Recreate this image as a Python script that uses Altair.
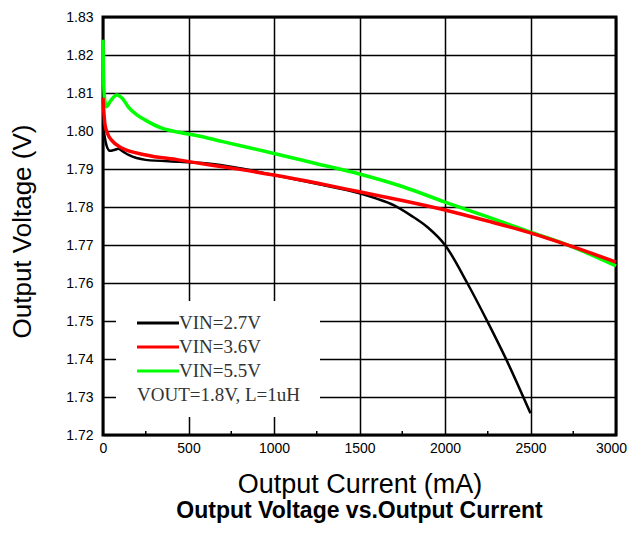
import altair as alt
import pandas as pd

# ---- data ----
series_names = ["VIN=2.7V", "VIN=3.6V", "VIN=5.5V"]
series_colors = ["#000000", "#ff0000", "#00ff00"]

current_27 = [0, 8, 20, 40, 65, 90, 120, 150, 250, 450, 600, 800, 1000, 1250, 1500,
              1600, 1700, 1800, 1900, 2000, 2130, 2250, 2360, 2500]
vout_27 = [1.8015, 1.7990, 1.7963, 1.7948, 1.7950, 1.7953, 1.7945, 1.7937, 1.7924, 1.7919,
           1.7915, 1.7902, 1.7884, 1.7861, 1.7836, 1.7822, 1.7805, 1.7778, 1.7746, 1.7700,
           1.7600, 1.7497, 1.7397, 1.7257]

current_36 = [0, 5, 12, 30, 50, 110, 250, 440, 636, 800, 1000, 1250, 1500, 1750, 2000,
              2250, 2500, 2750, 3000]
vout_36 = [1.8087, 1.8050, 1.8016, 1.7990, 1.7976, 1.7955, 1.7937, 1.7924, 1.7910, 1.7899,
           1.7884, 1.7863, 1.7840, 1.7817, 1.7792, 1.7763, 1.7732, 1.7695, 1.7655]

current_55 = [0, 3, 8, 20, 45, 80, 115, 150, 200, 250, 340, 450, 540, 700, 1000, 1250,
              1500, 1750, 2000, 2250, 2500, 2700, 3000]
vout_55 = [1.8240, 1.8150, 1.8090, 1.8064, 1.8080, 1.8095, 1.8085, 1.8062, 1.8042, 1.8028,
           1.8008, 1.7996, 1.7989, 1.7972, 1.7941, 1.7914, 1.7887, 1.7854, 1.7813, 1.7774,
           1.7734, 1.7703, 1.7645]

x_ticks = [0, 500, 1000, 1500, 2000, 2500, 3000]
x_minor = [250, 750, 1250, 1750, 2250, 2750]
y_ticks = [1.72, 1.73, 1.74, 1.75, 1.76, 1.77, 1.78, 1.79, 1.80, 1.81, 1.82, 1.83]
note_text = "VOUT=1.8V, L=1uH"

# ---- table ----
rows = []
for name, xs, ys in zip(series_names, [current_27, current_36, current_55],
                        [vout_27, vout_36, vout_55]):
    for i, (x, y) in enumerate(zip(xs, ys)):
        rows.append({"series": name, "current": x, "vout": y, "order": i})
df = pd.DataFrame(rows)

W, H = 513, 418
SANS = "Liberation Sans"
SERIF = "Liberation Serif"

x_scale = alt.Scale(domain=[0, 3000], nice=False, zero=False)
y_scale = alt.Scale(domain=[1.72, 1.83], nice=False, zero=False)
color_scale = alt.Scale(domain=series_names, range=series_colors)

x_axis = alt.Axis(values=x_ticks, format="d", title="Output Current (mA)", grid=True,
                  gridColor="#000000", gridWidth=1.5, gridOpacity=1, ticks=False,
                  domain=False, labelFont=SANS, labelFontSize=14, labelColor="#000000",
                  labelPadding=6, labelOffset=alt.expr("datum.value >= 3000 ? -5 : 0"),
                  titleFont=SANS, titleFontSize=27,
                  titleFontWeight="normal", titleColor="#000000", titleX=W / 2, titleY=57,
                  titleAlign="center", titleBaseline="alphabetic", labelFlush=False)
y_axis = alt.Axis(values=y_ticks, format=".2f", title="Output Voltage (V)", grid=True,
                  gridColor="#000000", gridWidth=1.5, gridOpacity=1, ticks=False,
                  domain=False, labelFont=SANS, labelFontSize=14, labelColor="#000000",
                  labelPadding=10, titleFont=SANS, titleFontSize=26,
                  titleFontWeight="normal", titleColor="#000000", titleX=-81, titleY=214,
                  titleAlign="center", titleBaseline="middle", titleAngle=-90,
                  labelFlush=False)


def xq(field):
    return alt.X(field, type="quantitative", scale=x_scale, axis=x_axis)


def yq(field):
    return alt.Y(field, type="quantitative", scale=y_scale, axis=y_axis)


base = alt.Chart(df)
one = pd.DataFrame({"k": [0]})

legend_box = alt.Chart(one).mark_rect(color="white").encode(
    x=alt.value(13), x2=alt.value(217), y=alt.value(284), y2=alt.value(400)
)

minor_ticks = alt.Chart(pd.DataFrame({"current": x_minor})).mark_rule(
    color="black", strokeWidth=1.5
).encode(
    x=xq("current"),
    y=alt.value(H), y2=alt.value(H - 4),
)

line_layers = []
for name, sw in zip(["VIN=2.7V", "VIN=5.5V", "VIN=3.6V"], [2.5, 3.5, 3.5]):
    line_layers.append(
        base.transform_filter(alt.datum.series == name).mark_line(
            interpolate="monotone", strokeWidth=sw
        ).encode(
            x=xq("current"),
            y=yq("vout"),
            color=alt.Color("series:N", scale=color_scale, legend=None),
            order="order:Q",
        )
    )

legend_layers = []
for i, (name, col) in enumerate(zip(series_names, series_colors)):
    yy = 306 + 24 * i
    legend_layers.append(
        alt.Chart(one).mark_rule(color=col, strokeWidth=3).encode(
            x=alt.value(34), x2=alt.value(76), y=alt.value(yy)
        )
    )
    legend_layers.append(
        alt.Chart(pd.DataFrame({"label": [name]})).mark_text(
            font=SERIF, fontSize=19, align="left", baseline="middle", color="#333333"
        ).encode(text="label:N", x=alt.value(76), y=alt.value(yy))
    )
legend_layers.append(
    alt.Chart(pd.DataFrame({"label": [note_text]})).mark_text(
        font=SERIF, fontSize=19, align="left", baseline="middle", color="#333333"
    ).encode(text="label:N", x=alt.value(34), y=alt.value(378))
)

chart = alt.layer(
    legend_box, minor_ticks, *line_layers, *legend_layers
).properties(
    width=W, height=H,
    background="white",
    title=alt.TitleParams(
        text="Output Voltage vs.Output Current", orient="bottom", anchor="middle",
        font=SANS, fontSize=23, fontWeight="bold", color="#000000", offset=3,
    ),
    autosize=alt.AutoSizeParams(type="none"),
    padding={"left": 95, "top": 9, "right": 11, "bottom": 91},
).configure_view(
    stroke="#000000", strokeWidth=3
)

chart.save("out.html", embed_options={"renderer": "svg", "actions": False})
